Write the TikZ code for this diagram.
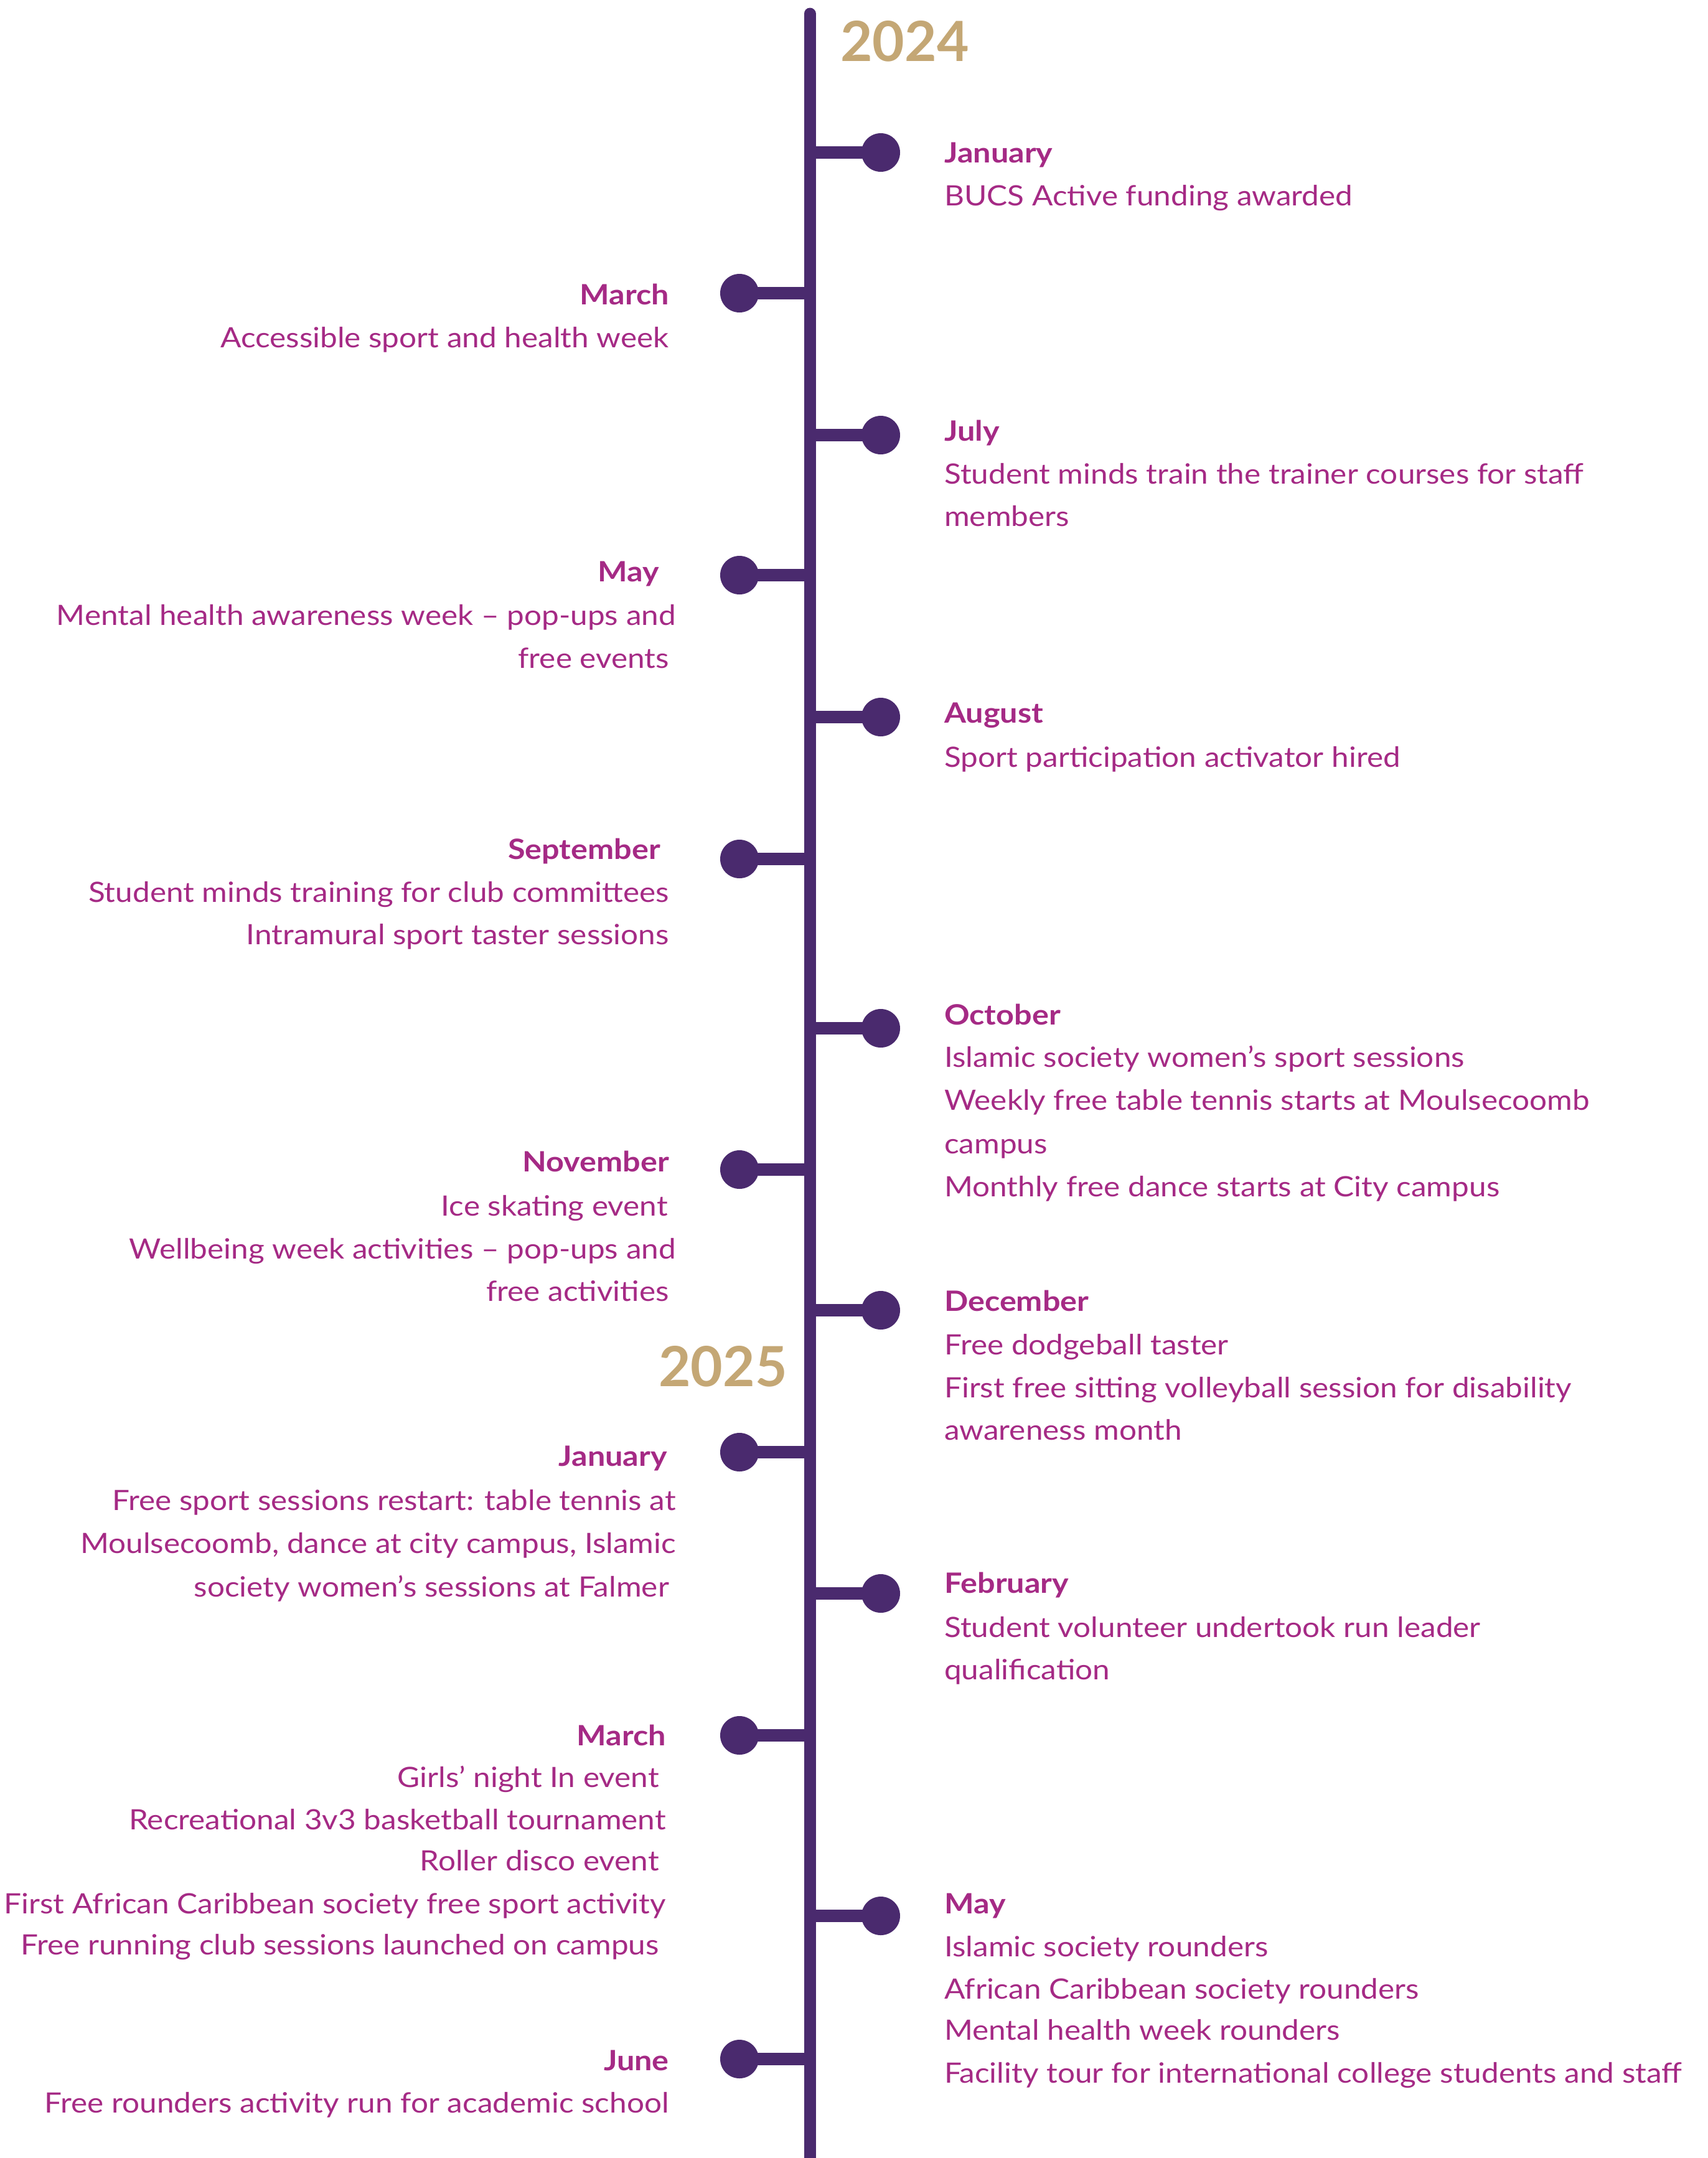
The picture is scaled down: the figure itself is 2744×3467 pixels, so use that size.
\documentclass[tikz,border=0pt]{standalone}
\usepackage{fontspec}
\setmainfont{Lato}[FakeStretch=1.1,BoldFeatures={FakeStretch=1.12}]
\newfontfamily\yearfont{Lato}
\definecolor{spine}{HTML}{4A2A6E}
\definecolor{txtc}{HTML}{A52A85}
\definecolor{tan}{HTML}{C4A775}
\tikzset{
  dotnode/.style={circle,fill=spine,minimum size=62pt,inner sep=0pt},
  branch/.style={draw=spine,line width=20pt},
  spineline/.style={draw=spine,line width=19pt},
  txt/.style={text=txtc,inner sep=0pt,font=\fontsize{45}{54}\selectfont},
  mon/.style={txt,font=\fontsize{45}{54}\selectfont\bfseries},
  yearlbl/.style={text=tan,inner sep=0pt,font=\yearfont\fontsize{89}{100}\selectfont\bfseries}
}
\newcommand\rtxt[3]{\node[txt,anchor=base west] (#1) at (1517,#2) {#3};}
\newcommand\rmon[3]{\node[mon,anchor=base west] (#1) at (1517,#2) {#3};}
\newcommand\ltxt[4]{\node[txt,anchor=base east] (#1) at (#2,#3) {#4};}
\newcommand\lmon[4]{\node[mon,anchor=base east] (#1) at (#2,#3) {#4};}
\begin{document}
\begin{tikzpicture}[x=1pt,y=-1pt]
\useasboundingbox[fill=white] (0,0) rectangle (2744,3467);
% spine
\coordinate (top) at (1301,22);
\coordinate (bot) at (1301,3480);
\draw[spineline,line cap=round] (top) -- (bot);
% right dots
\foreach \n/\y in {r1/245,r2/699,r3/1152,r4/1652,r5/2105,r6/2560,r7/3078}{
  \coordinate (s\n) at (1301,\y);
  \node[dotnode] (\n) at (1415,\y) {};
  \draw[branch] (s\n) -- (\n.center);
}
% left dots
\foreach \n/\y in {l1/471,l2/924,l3/1380,l4/1879,l5/2333,l6/2788,l7/3308}{
  \coordinate (s\n) at (1301,\y);
  \node[dotnode] (\n) at (1188,\y) {};
  \draw[branch] (s\n) -- (\n.center);
}
% years
\node[yearlbl,anchor=base west] (y2024) at (1350,98) {2024};
\node[yearlbl,anchor=base west] (y2025) at (1058,2227) {2025};
% right texts
\rmon{rm1}{261}{January}
\rtxt{rt1a}{330}{BUCS Active funding awarded}
\rmon{rm2}{708}{July}
\rtxt{rt2a}{777}{Student minds train the trainer courses for staff}
\rtxt{rt2b}{845}{members}
\rmon{rm3}{1161}{August}
\rtxt{rt3a}{1232}{Sport participation activator hired}
\rmon{rm4}{1646}{October}
\rtxt{rt4a}{1714}{Islamic society women’s sport sessions}
\rtxt{rt4b}{1783}{Weekly free table tennis starts at Moulsecoomb}
\rtxt{rt4c}{1853}{campus}
\rtxt{rt4d}{1922}{Monthly free dance starts at City campus}
\rmon{rm5}{2106}{December}
\rtxt{rt5a}{2176}{Free dodgeball taster}
\rtxt{rt5b}{2245}{First free sitting volleyball session for disability}
\rtxt{rt5c}{2313}{awareness month}
\rmon{rm6}{2559}{February}
\rtxt{rt6a}{2630}{Student volunteer undertook run leader}
\rtxt{rt6b}{2698}{qualification}
\rmon{rm7}{3074}{May}
\rtxt{rt7a}{3143}{Islamic society rounders}
\rtxt{rt7b}{3211}{African Caribbean society rounders}
\rtxt{rt7c}{3277}{Mental health week rounders}
\rtxt{rt7d}{3346}{Facility tour for international college students and staff}
% left texts
\lmon{lm1}{1075}{489}{March}
\ltxt{lt1a}{1075}{558}{Accessible sport and health week}
\lmon{lm2}{1059}{934}{May}
\ltxt{lt2a}{1086}{1004}{Mental health awareness week – pop-ups and}
\ltxt{lt2b}{1075}{1073}{free events}
\lmon{lm3}{1061}{1380}{September}
\ltxt{lt3a}{1075}{1449}{Student minds training for club committees}
\ltxt{lt3b}{1075}{1517}{Intramural sport taster sessions}
\lmon{lm4}{1075}{1882}{November}
\ltxt{lt4a}{1073}{1953}{Ice skating event}
\ltxt{lt4b}{1086}{2022}{Wellbeing week activities – pop-ups and}
\ltxt{lt4c}{1075}{2090}{free activities}
\lmon{lm5}{1072}{2355}{January}
\ltxt{lt5a}{1086}{2426}{Free sport sessions restart: table tennis at}
\ltxt{lt5b}{1086}{2495}{Moulsecoomb, dance at city campus, Islamic}
\ltxt{lt5c}{1075}{2565}{society women’s sessions at Falmer}
\lmon{lm6}{1070}{2804}{March}
\ltxt{lt6a}{1059}{2871}{Girls’ night In event}
\ltxt{lt6b}{1070}{2939}{Recreational 3v3 basketball tournament}
\ltxt{lt6c}{1059}{3005}{Roller disco event}
\ltxt{lt6d}{1070}{3074}{First African Caribbean society free sport activity}
\ltxt{lt6e}{1059}{3140}{Free running club sessions launched on campus}
\lmon{lm7}{1075}{3326}{June}
\ltxt{lt7a}{1075}{3394}{Free rounders activity run for academic school}
\end{tikzpicture}
\end{document}
